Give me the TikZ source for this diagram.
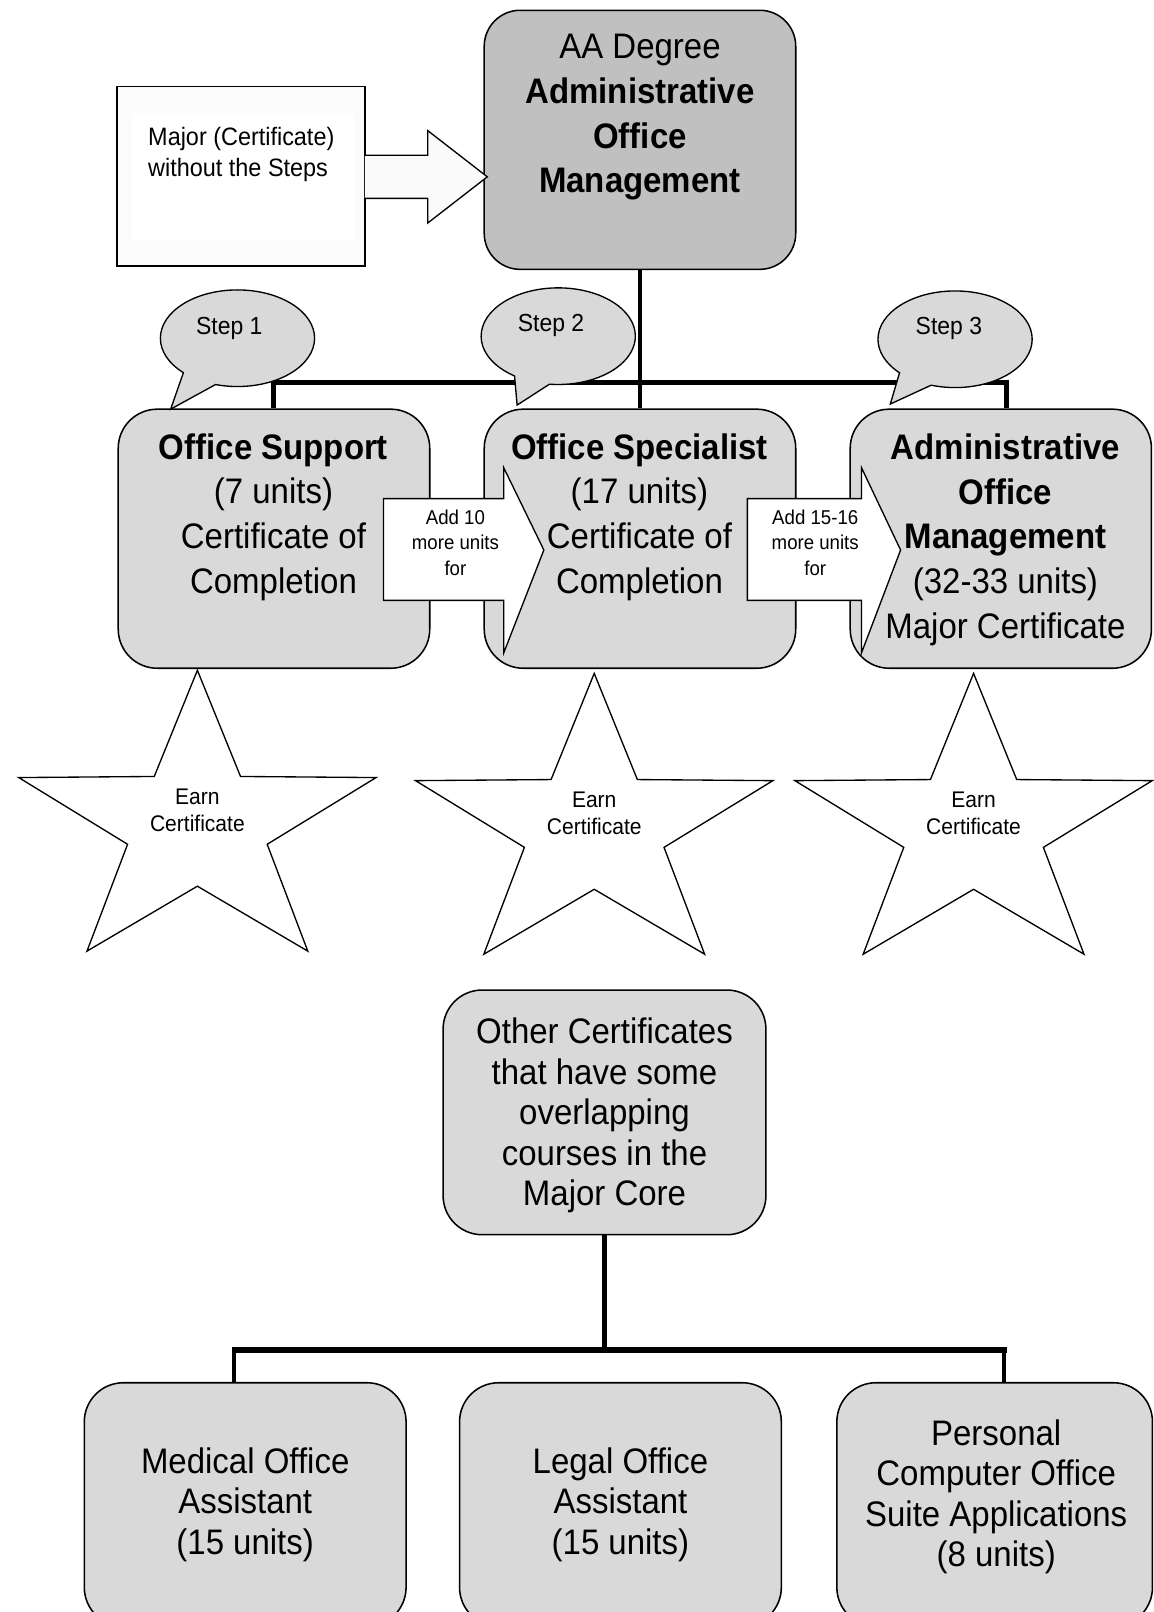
\documentclass[tikz,border=0pt]{standalone}
\usepackage{fontspec}
\setmainfont{Liberation Sans}[FakeStretch=0.93]
\usetikzlibrary{shapes.callouts}

\definecolor{boxgray}{HTML}{D9D9D9}
\definecolor{topgray}{HTML}{C0C0C0}

\begin{document}
\begin{tikzpicture}[
  x=1pt,
  y=-1pt,
  card/.style={
    draw,
    fill=boxgray,
    line width=1.5pt,
    rounded corners=38pt,
    inner sep=0pt
  },
  bigtxt/.style={
    font=\fontsize{34.5}{43.5}\selectfont,
    align=center,
    inner sep=0pt
  },
  lowtxt/.style={
    font=\fontsize{34.5}{39.5}\selectfont,
    align=center
  },
  bubble/.style={
    ellipse callout,
    draw,
    fill=boxgray,
    line width=1.3pt,
    minimum width=150,
    minimum height=94,
    callout pointer arc=28
  },
  steptxt/.style={
    font=\fontsize{24}{28}\selectfont,
    inner sep=0pt
  },
  blockarrow/.style={
    draw,
    fill=white,
    line width=1.3pt,
    line join=miter
  },
  smalltxt/.style={
    font=\fontsize{19.5}{24.5}\selectfont,
    align=center,
    inner sep=0pt
  },
  starline/.style={
    draw,
    fill=white,
    line width=1.3pt,
    line join=miter
  },
  stem/.style={line width=4pt},
  bar/.style={line width=5.5pt, line cap=rect},
]
\useasboundingbox (0,0) rectangle (1122,1568);

% upper boxes
\node[card, fill=gray!3, rounded corners=0pt, minimum width=241, minimum height=175] (major) at (234.5,171.5) {};
\fill[white] (128,110) rectangle (345,233);
\node[inner sep=0pt, anchor=west, align=left, font=\fontsize{24.5}{30}\selectfont] (majortxt) at (144,150) {Major (Certificate)\\without the Steps};

\node[card, fill=topgray, rounded corners=35pt, minimum width=303, minimum height=252] (aa) at (622.5,136) {};
\node[bigtxt] (aatxt) at (622.5,114) {AA Degree\\\textbf{Administrative}\\\textbf{Office}\\\textbf{Management}};

\node[card, minimum width=303, minimum height=252] (sup) at (266.5,524) {};
\node[card, minimum width=303, minimum height=252] (spec) at (622.5,524) {};
\node[card, minimum width=293, minimum height=252] (adm) at (973.5,524) {};

\node[bigtxt] (suptxt) at (266,503) {\textbf{Office Support}\\(7 units)\\Certificate of\\Completion};
\node[bigtxt] (spectxt) at (622,503) {\textbf{Office Specialist}\\(17 units)\\Certificate of\\Completion};
\node[bigtxt] (admtxt) at (978,525) {\textbf{Administrative}\\\textbf{Office}\\\textbf{Management}\\(32-33 units)\\Major Certificate};

% tree
\coordinate (topleft) at (266,372);
\coordinate (topright) at (979,372);
\draw[stem] (aa.south) -- (spec.north);
\draw[bar] (topleft) -- (topright);
\draw[stem] (topleft) -- (topleft |- sup.north);
\draw[stem] (topright) -- (topright |- adm.north);

% steps
\node[bubble, callout absolute pointer={(166,398)}] (step1) at (231,329) {};
\node[bubble, callout absolute pointer={(503,394)}] (step2) at (543,327) {};
\node[bubble, callout absolute pointer={(866,393)}] (step3) at (929,330) {};
\node[steptxt] (step1txt) at (223,319) {Step 1};
\node[steptxt] (step2txt) at (536,317) {Step 2};
\node[steptxt] (step3txt) at (923,319) {Step 3};

% block arrows
\path[blockarrow, fill=gray!4] (355,151) -- (416,151) -- (416,127) -- (474,172) -- (416,217) -- (416,193) -- (355,193);
\draw[blockarrow] (373,485) -- (490,485) -- (490,455) -- (529,535) -- (490,635) -- (490,584) -- (373,584) -- cycle;
\draw[blockarrow] (727,485) -- (838,485) -- (838,455) -- (876,535) -- (838,635) -- (838,584) -- (727,584) -- cycle;
\node[smalltxt] (add1) at (443,528) {Add 10\\more units\\for};
\node[smalltxt] (add2) at (793,528) {Add 15-16\\more units\\for};

% stars
\foreach \cx/\cy/\nm in {192/803/a, 578/806/b, 947/806/c}{
  \begin{scope}[shift={(\cx,\cy)}, xscale=1.21]
    \draw[starline] (270:151) \foreach \k in {1,...,9}{ -- ({270+36*\k}:{ifthenelse(mod(\k,2)==1,59,151)}) } -- cycle;
  \end{scope}
  \node[smalltxt, font=\fontsize{22}{26}\selectfont] (earn\nm) at (\cx,\cy-15) {Earn\\Certificate};
}

% other certificates
\node[card, minimum width=314, minimum height=238] (other) at (588,1082) {};
\node[lowtxt] (othertxt) at (588,1085) {Other Certificates\\that have some\\overlapping\\courses in the\\Major Core};

\node[card, lowtxt, minimum width=313, minimum height=237] (med) at (238.5,1463.5) {Medical Office\\Assistant\\(15 units)};
\node[card, lowtxt, minimum width=313, minimum height=237] (legal) at (603.5,1463.5) {Legal Office\\Assistant\\(15 units)};
\node[card, minimum width=307, minimum height=237] (pcs) at (967.5,1463.5) {};
\node[lowtxt] (pcstxt) at (969,1456) {Personal\\Computer Office\\Suite Applications\\(8 units)};

\coordinate (lowjoin) at (588,1313);
\coordinate (lowleft) at (228,1313);
\coordinate (lowright) at (977,1313);
\draw[stem] (other.south) -- (lowjoin);
\draw[bar] (lowleft) -- (lowright);
\draw[stem] (lowleft) -- (lowleft |- med.north);
\draw[stem] (lowright) -- (lowright |- pcs.north);
\end{tikzpicture}
\end{document}
